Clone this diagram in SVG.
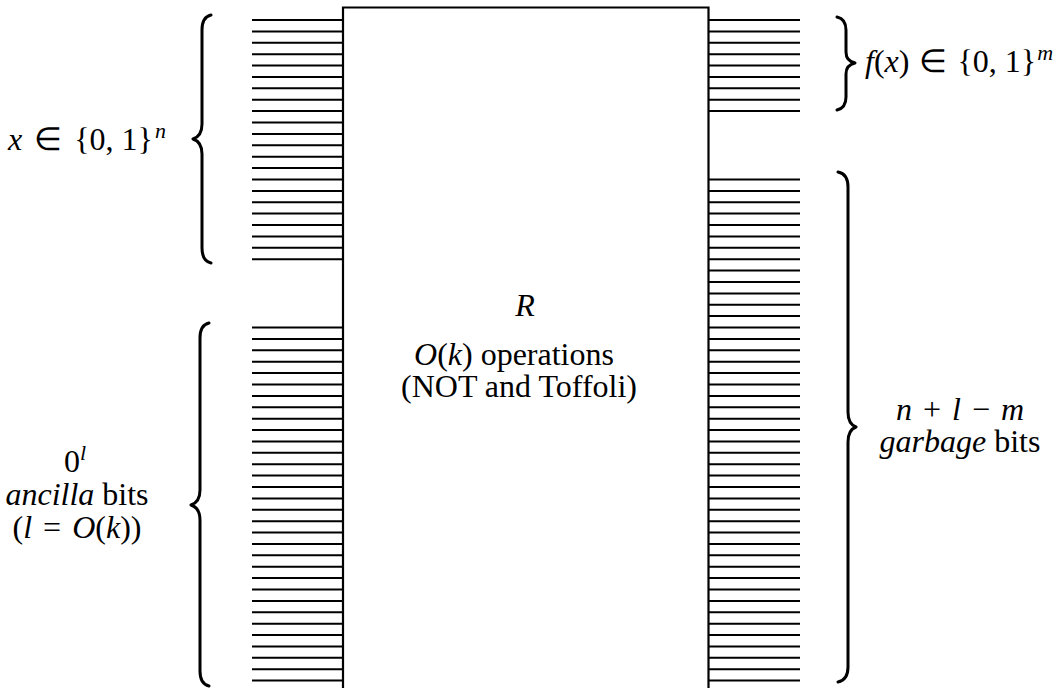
<svg xmlns="http://www.w3.org/2000/svg" width="1063" height="688" viewBox="0 0 1063 688">
<style>
text{font-family:"Liberation Serif","Times New Roman",serif;font-size:32px;fill:#000}
.i{font-style:italic}
.sup{font-size:22px;font-style:italic}
.wire{stroke:#000;stroke-width:2;fill:none}
.brace{stroke:#000;stroke-width:3;fill:none;stroke-linecap:round;stroke-linejoin:round}
.box{stroke:#000;stroke-width:2.2;fill:#fff}
</style>
<rect width="1063" height="688" fill="#fff"/>
<g id="connectors">
<path class="wire" d="M252,20H343M252,31.4H343M252,42.8H343M252,54.2H343M252,65.6H343M252,77H343M252,88.3H343M252,99.7H343M252,111.1H343M252,122.5H343M252,133.9H343M252,145.3H343M252,156.7H343M252,168.1H343M252,179.5H343M252,190.9H343M252,202.2H343M252,213.6H343M252,225H343M252,236.4H343M252,247.8H343M252,259.2H343"/>
<path class="wire" d="M252,327.5H343M252,338.9H343M252,350.3H343M252,361.7H343M252,373.1H343M252,384.5H343M252,395.9H343M252,407.3H343M252,418.7H343M252,430H343M252,441.4H343M252,452.8H343M252,464.2H343M252,475.6H343M252,487H343M252,498.4H343M252,509.8H343M252,521.2H343M252,532.6H343M252,543.9H343M252,555.3H343M252,566.7H343M252,578.1H343M252,589.5H343M252,600.9H343M252,612.3H343M252,623.7H343M252,635.1H343M252,646.5H343M252,657.8H343M252,669.2H343M252,680.6H343"/>
<path class="wire" d="M708,20H800M708,31.4H800M708,42.8H800M708,54.2H800M708,65.6H800M708,77H800M708,88.3H800M708,99.7H800M708,111.1H800"/>
<path class="wire" d="M708,179.5H800M708,190.9H800M708,202.2H800M708,213.6H800M708,225H800M708,236.4H800M708,247.8H800M708,259.2H800M708,270.6H800M708,282H800M708,293.4H800M708,304.8H800M708,316.1H800M708,327.5H800M708,338.9H800M708,350.3H800M708,361.7H800M708,373.1H800M708,384.5H800M708,395.9H800M708,407.3H800M708,418.7H800M708,430H800M708,441.4H800M708,452.8H800M708,464.2H800M708,475.6H800M708,487H800M708,498.4H800M708,509.8H800M708,521.2H800M708,532.6H800M708,543.9H800M708,555.3H800M708,566.7H800M708,578.1H800M708,589.5H800M708,600.9H800M708,612.3H800M708,623.7H800M708,635.1H800M708,646.5H800M708,657.8H800M708,669.2H800M708,680.6H800"/>
</g>
<g id="R">
<path class="box" d="M343,700V7.5H708.5V700"/>
<text class="i" x="525" y="316" text-anchor="middle">R</text>
<text x="514" y="365" text-anchor="middle"><tspan class="i">O</tspan>(<tspan class="i">k</tspan>) operations</text>
<text x="519" y="397" text-anchor="middle">(NOT and Toffoli)</text>
</g>
<g id="input">
<path class="brace" d="M211,15Q202,17 202,30L202,124Q202,136 193,139Q202,142 202,154L202,248Q202,261 211,263"/>
<text x="8" y="150"><tspan class="i">x</tspan><tspan dx="4"> ∈ </tspan><tspan dx="4">{0, 1}</tspan><tspan class="sup" dx="2" dy="-12">n</tspan></text>
</g>
<g id="ancilla">
<path class="brace" d="M209,323Q200,325 200,338L200,490Q200,502 191,505Q200,508 200,520L200,671Q200,684 209,686"/>
<text x="75" y="472" text-anchor="middle">0<tspan class="sup" dy="-12">l</tspan></text>
<text x="77" y="505" text-anchor="middle"><tspan class="i">ancilla</tspan> bits</text>
<text x="77" y="538" text-anchor="middle">(<tspan class="i">l</tspan><tspan dx="3"> = </tspan><tspan class="i" dx="3">O</tspan>(<tspan class="i">k</tspan>))</text>
</g>
<g id="output">
<path class="brace" d="M837,17Q846,19 846,30L846,52Q846,61 855,63Q846,65 846,74L846,97Q846,108 837,110"/>
<text x="865" y="72"><tspan class="i">f</tspan>(<tspan class="i">x</tspan>)<tspan dx="2"> ∈ </tspan><tspan dx="2">{0, 1}</tspan><tspan class="sup" dx="1" dy="-12">m</tspan></text>
</g>
<g id="garbage">
<path class="brace" d="M838,172Q848,174 848,187L848,412Q848,424 856,427Q848,430 848,442L848,667Q848,680 838,682"/>
<text x="960" y="420" text-anchor="middle"><tspan class="i">n</tspan><tspan dx="3"> + </tspan><tspan class="i" dx="3">l</tspan><tspan dx="3"> − </tspan><tspan class="i" dx="3">m</tspan></text>
<text x="960" y="452" text-anchor="middle"><tspan class="i">garbage</tspan> bits</text>
</g>
</svg>
